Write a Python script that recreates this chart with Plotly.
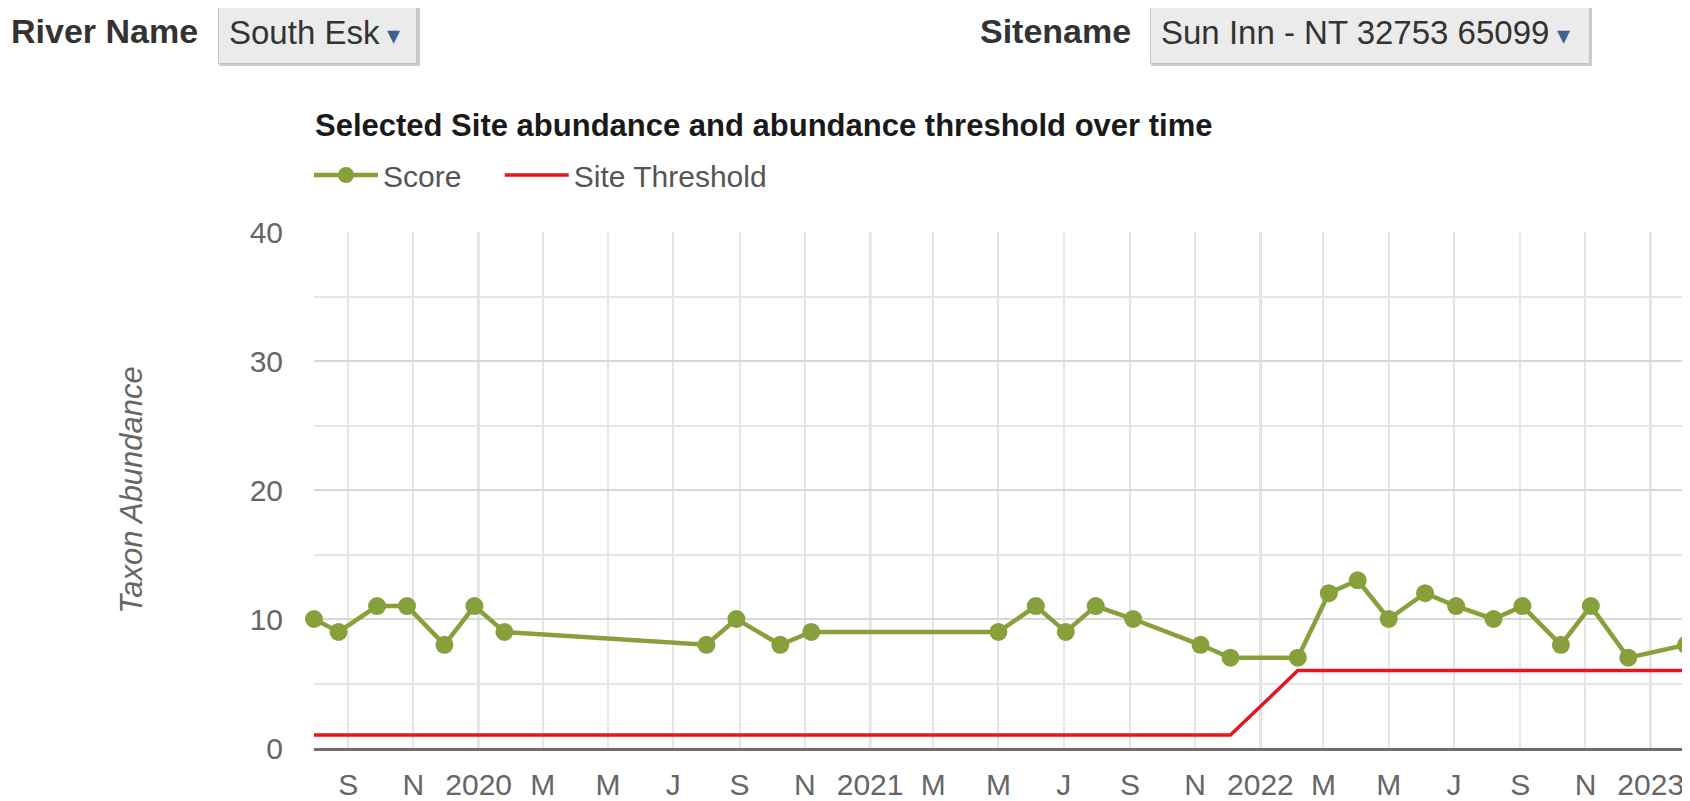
import plotly.graph_objects as go

# ---------------- data ----------------
score_dates = [
    "2019-07-31", "2019-08-23", "2019-09-28", "2019-10-26", "2019-11-30", "2019-12-28",
    "2020-01-25", "2020-08-01", "2020-08-29", "2020-10-09", "2020-11-07",
    "2021-05-01", "2021-06-05", "2021-07-03", "2021-07-31", "2021-09-04", "2021-11-06",
    "2021-12-04", "2022-02-05", "2022-03-06", "2022-04-02", "2022-05-01", "2022-06-04",
    "2022-07-03", "2022-08-07", "2022-09-03", "2022-10-09", "2022-11-06", "2022-12-11",
    "2023-02-03",
]
score_values = [10, 9, 11, 11, 8, 11, 9, 8, 10, 8, 9, 9, 11, 9, 11, 10, 8, 7, 7,
                12, 13, 10, 12, 11, 10, 11, 8, 11, 7, 8]
threshold_values = [1] * 18 + [6] * 12

tick_dates = [
    "2019-09-01", "2019-11-01", "2020-01-01", "2020-03-01", "2020-05-01", "2020-07-01",
    "2020-09-01", "2020-11-01", "2021-01-01", "2021-03-01", "2021-05-01", "2021-07-01",
    "2021-09-01", "2021-11-01", "2022-01-01", "2022-03-01", "2022-05-01", "2022-07-01",
    "2022-09-01", "2022-11-01", "2023-01-01",
]
tick_labels = ["S", "N", "2020", "M", "M", "J", "S", "N", "2021", "M", "M", "J",
               "S", "N", "2022", "M", "M", "J", "S", "N", "2023"]
year_dates = ["2020-01-01", "2021-01-01", "2022-01-01", "2023-01-01"]
y_ticks = [0, 10, 20, 30, 40]

series_names = ["Score", "Site Threshold"]
river_label = "River Name"
river_value = "South Esk"
site_label = "Sitename"
site_value = "Sun Inn - NT 32753 65099"
chart_title = "Selected Site abundance and abundance threshold over time"
y_title = "Taxon Abundance"

# ---------------- layout geometry (page pixels, page has an 8px body margin) ----------------
OFF = 8
W, H = 1690 - OFF, 801 - OFF
ML, MT = 314 - OFF, 232 - OFF
MB = H - (748 - OFF)
MR = W - (1686 - OFF)
PW, PH = W - ML - MR, H - MT - MB


def px_x(page_x):
    return (page_x - OFF - ML) / PW


def px_y(page_y):
    return (H - MB - (page_y - OFF)) / PH


FONT = "Liberation Sans, Arial, Helvetica, sans-serif"
GREEN = "#88a03b"
RED = "#e5161e"
NBSP = "\u00a0"

fig = go.Figure()
fig.add_trace(go.Scatter(
    x=score_dates, y=score_values, name=series_names[0] + NBSP * 4, mode="lines+markers",
    line=dict(color=GREEN, width=4.5), marker=dict(color=GREEN, size=18),
    cliponaxis=False,
))
fig.add_trace(go.Scatter(
    x=score_dates, y=threshold_values, name=series_names[1], mode="lines",
    line=dict(color=RED, width=3.5), cliponaxis=False,
))

shapes = []
for d in year_dates:
    shapes.append(dict(type="line", xref="x", yref="paper", x0=d, x1=d, y0=0, y1=1,
                       line=dict(color="#c8c8c8", width=2.5), layer="below"))
# dropdown shadows
for (x0, x1) in [(219, 420), (1151, 1592)]:
    shapes.append(dict(type="rect", xref="paper", yref="paper",
                       x0=px_x(x0), x1=px_x(x1), y0=px_y(66), y1=px_y(0),
                       fillcolor="#cdcdcd", line=dict(width=0), layer="below"))

caret = '<span style="font-size:26px;color:#3d628f"> ▾</span>'
annotations = [
    dict(text=f"<b>{river_label}</b>", xref="paper", yref="paper", x=px_x(9), y=px_y(31),
         xanchor="left", yanchor="middle", showarrow=False,
         font=dict(family=FONT, size=34, color="#333333")),
    dict(text=river_value + caret, xref="paper", yref="paper", x=px_x(218), y=px_y(0),
         xanchor="left", yanchor="top", showarrow=False, align="left",
         width=177, height=42, borderpad=10, bgcolor="#ebebeb", bordercolor="#c4c4c4",
         borderwidth=1, font=dict(family=FONT, size=33, color="#333333")),
    dict(text=f"<b>{site_label}</b>", xref="paper", yref="paper", x=px_x(978), y=px_y(31),
         xanchor="left", yanchor="middle", showarrow=False,
         font=dict(family=FONT, size=34, color="#333333")),
    dict(text=site_value + caret, xref="paper", yref="paper", x=px_x(1150), y=px_y(0),
         xanchor="left", yanchor="top", showarrow=False, align="left",
         width=418, height=42, borderpad=10, bgcolor="#ebebeb", bordercolor="#c4c4c4",
         borderwidth=1, font=dict(family=FONT, size=33, color="#333333")),
]

fig.update_layout(
    width=W, height=H,
    margin=dict(l=ML, r=MR, t=MT, b=MB, autoexpand=False),
    paper_bgcolor="white", plot_bgcolor="white",
    font=dict(family=FONT),
    title=dict(text=f"<b>{chart_title}</b>", x=px_x(315), xref="paper", xanchor="left",
               y=1 - (125 - OFF) / H, yref="container", yanchor="middle",
               font=dict(family=FONT, size=31, color="#1a1a1a")),
    showlegend=True,
    legend=dict(orientation="h", x=px_x(309), y=px_y(175), xanchor="left", yanchor="middle",
                font=dict(family=FONT, size=30, color="#555555"),
                itemwidth=64, bgcolor="rgba(0,0,0,0)"),
    xaxis=dict(
        type="date", range=["2019-07-31", "2023-02-03"],
        tickmode="array", tickvals=tick_dates, ticktext=tick_labels,
        showgrid=True, gridcolor="#e6e6e6", gridwidth=2,
        showline=True, linecolor="#6e6e6e", linewidth=3,
        zeroline=False, ticks="", ticklabelstandoff=8,
        tickfont=dict(family=FONT, size=30, color="#666666"),
    ),
    yaxis=dict(
        range=[0, 40], tickmode="array", tickvals=y_ticks,
        showgrid=True, gridcolor="#d8d8d8", gridwidth=2,
        minor=dict(dtick=5, showgrid=True, gridcolor="#e6e6e6", gridwidth=2),
        showline=False, zeroline=False, ticks="", ticklabelstandoff=30,
        tickfont=dict(family=FONT, size=30, color="#666666"),
        title=dict(text=f"<i>{y_title}</i>", standoff=97,
                   font=dict(family=FONT, size=31, color="#666666")),
    ),
    shapes=shapes,
    annotations=annotations,
)

fig.write_html("out.html")
